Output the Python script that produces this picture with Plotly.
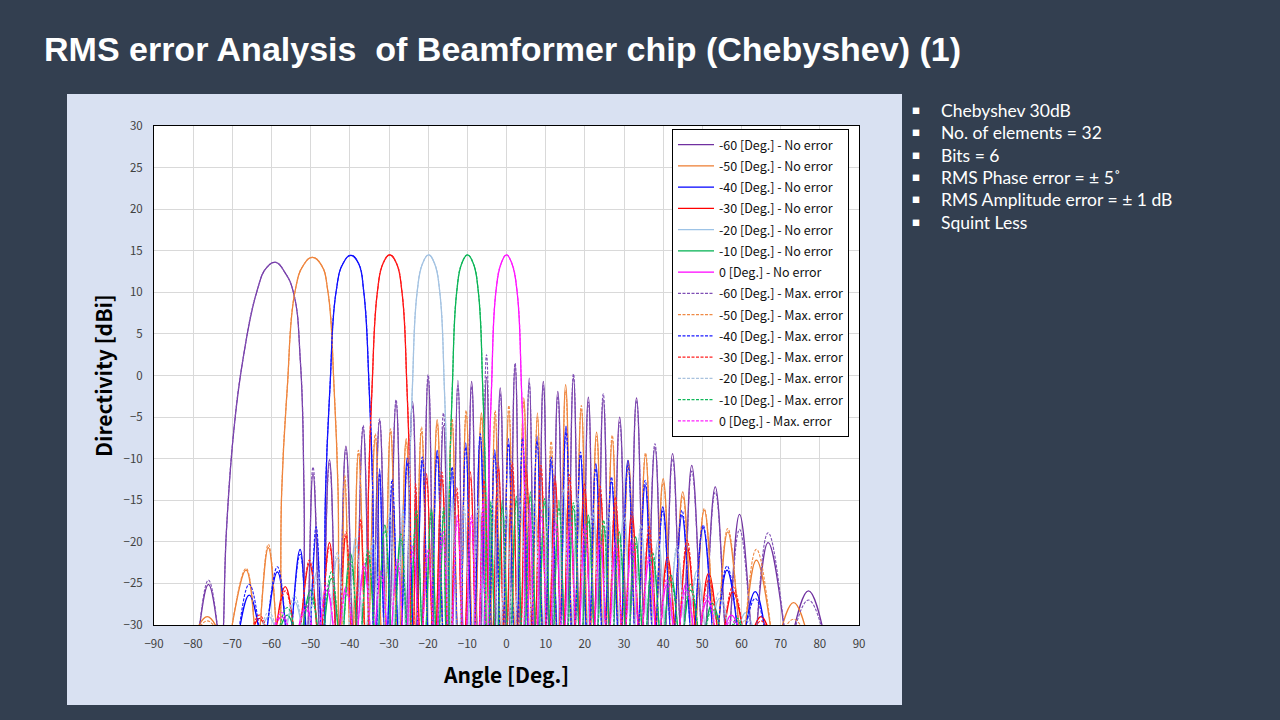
import plotly.graph_objects as go

# ---------------- data ----------------
x_tick_vals = list(range(-90, 91, 10))
y_tick_vals = list(range(-30, 31, 5))

beam_labels = ["-60", "-50", "-40", "-30", "-20", "-10", "0"]
beam_colors = ["#7030A0", "#ED7D31", "#0000FF", "#FF0000", "#9DC3E6", "#00B050", "#FF00FF"]
dash_colors = ["#7F4FB5", "#F08A45", "#1A1AFF", "#FF2020", "#A9C2DE", "#10B85A", "#FF22FF"]

std_main_y = [-14.0, -1.7, 10.1, 13.5, 14.5, 13.5, 10.1, -1.7, -14.0]

# -60 deg beam
m60_main_x = [-71.5, -69.6, -67.3, -63.8, -61.2, -58.9, -56.6, -54.4, -52.6, -51.7]
m60_main_y = [-18.6, -6.5, 1.9, 10.0, 13.0, 13.6, 12.4, 10.0, 1.5, -14.0]
m60_nulls = [-72.8, -51.2]
m60_side_x = [-76.1, -49.4, -45.2, -41.0, -36.6, -32.4, -28.2, -24.0, -20.0, -16.1, -12.4, -8.9,
              -5.1, -1.6, 2.2, 5.8, 9.4, 13.1, 17.1, 20.9, 24.7, 28.9, 33.2, 37.9, 42.4, 47.3,
              53.3, 59.5, 66.8, 77.1]
m60_noerr = [-25.1, -11.8, -10.1, -8.5, -6.4, -5.5, -3.3, -3.1, -0.3, -6.0, -0.6, -0.7,
             -0.2, -1.5, 1.1, -0.3, -0.7, -1.9, -0.3, -2.6, -2.9, -5.0, -2.7, -8.6, -9.4, -10.8,
             -13.4, -16.7, -20.1, -25.9]
m60_maxerr = [-24.6, -11.0, -10.6, -8.9, -6.0, -5.2, -2.9, -3.6, 0.1, -4.5, -1.2, -1.3,
              2.5, -2.2, 1.5, -0.9, -1.2, -2.5, 0.2, -3.2, -2.2, -5.6, -3.0, -8.2, -10.0, -11.5,
              -14.0, -18.5, -18.9, -27.0]

# -50 deg beam
m50_main_x = [-57.4, -56.0, -54.0, -51.8, -49.6, -47.3, -45.6, -44.0, -43.0]
m50_main_y = [-14.0, -1.7, 10.1, 13.3, 14.2, 13.3, 10.1, -1.7, -14.0]
m50_nulls = [-58.1, -42.5]
m50_side_x = [-76.4, -66.5, -60.8, -41.3, -37.8, -33.5, -29.6, -25.6, -21.7, -17.7, -13.9, -10.3,
              -6.4, -2.9, 0.6, 4.4, 7.9, 11.4, 15.1, 19.1, 23.0, 27.0, 31.1, 35.5, 40.0, 45.0,
              50.5, 56.5, 63.8, 73.3]
m50_noerr = [-29.0, -23.4, -20.7, -12.6, -9.4, -7.6, -6.8, -7.6, -6.8, -5.3, -5.7, -4.7,
             -4.5, -4.7, -4.3, -2.7, -4.5, -8.8, -1.1, -4.1, -6.8, -7.8, -10.2, -9.6, -12.4, -14.0,
             -16.2, -18.8, -22.2, -27.3]
m50_maxerr = [-29.5, -23.2, -20.3, -12.0, -9.0, -7.0, -6.4, -8.0, -6.2, -5.8, -5.2, -4.2,
              -5.0, -4.2, -3.6, -3.2, -5.0, -7.9, -1.8, -3.6, -7.3, -7.2, -10.8, -9.3, -12.9, -14.5,
              -16.0, -18.4, -20.9, -29.3]

# -40 deg beam
m40_main_x = [-46.2, -45.1, -43.5, -41.7, -39.7, -37.8, -36.45, -35.05, -34.15]
m40_main_y = [-14.0, -1.7, 10.1, 13.5, 14.45, 13.5, 10.1, -1.7, -14.0]
m40_nulls = [-46.85, -33.6]
m40_side_x = [-65.7, -58.5, -52.7, -48.6, -32.4, -29.2, -25.3, -21.5, -17.7, -13.9, -10.4, -6.7,
              -3.0, 0.5, 4.1, 7.8, 11.4, 15.2, 18.9, 22.8, 26.8, 31.0, 35.4, 39.9, 44.8, 50.2,
              56.3, 63.5]
m40_noerr = [-26.4, -23.6, -20.9, -19.0, -11.2, -13.2, -9.8, -10.4, -9.0, -11.5, -8.1, -7.4,
             -8.9, -7.6, -8.0, -7.3, -10.4, -6.1, -9.7, -10.6, -12.8, -10.2, -13.2, -15.8, -16.8, -18.3,
             -23.4, -26.0]
m40_maxerr = [-25.1, -23.0, -21.5, -18.2, -11.8, -12.5, -10.5, -9.8, -9.6, -11.0, -8.6, -7.0,
              -9.4, -8.2, -7.5, -7.9, -9.8, -6.8, -9.2, -11.2, -12.2, -10.8, -12.6, -16.3, -16.2, -18.0,
              -22.9, -26.8]

# -30 deg beam
m30_main_x = [-35.25, -34.35, -32.95, -31.5, -29.8, -28.1, -26.7, -25.4, -24.6]
m30_main_y = std_main_y
m30_nulls = [-35.8, -24.1]
m30_side_x = [-63.1, -56.5, -50.3, -45.2, -41.0, -37.2, -23.2, -20.4, -16.5, -12.7, -9.2, -5.7,
              -2.1, 1.5, 5.0, 8.8, 12.4, 16.1, 19.9, 23.9, 27.8, 32.0, 36.4, 41.1, 46.1, 51.6,
              57.8, 65.0]
m30_noerr = [-29.2, -25.4, -22.6, -20.1, -19.3, -17.8, -13.8, -11.8, -12.4, -14.2, -11.6, -13.4,
             -10.4, -11.2, -10.7, -11.4, -12.0, -12.6, -13.0, -14.0, -15.4, -16.4, -19.0, -21.8, -20.6, -23.8,
             -26.0, -29.0]
m30_maxerr = [-28.8, -25.9, -22.2, -20.6, -18.8, -17.3, -13.0, -12.4, -11.6, -13.5, -12.3, -12.6,
              -11.2, -10.5, -11.6, -10.8, -12.8, -11.9, -13.8, -13.3, -14.6, -17.2, -18.2, -22.6, -19.8, -24.6,
              -25.4, -29.5]

# -20 deg beam
m20_main_x = [-24.85, -24.05, -22.8, -21.4, -19.9, -18.4, -17.05, -15.85, -15.1]
m20_main_y = std_main_y
m20_nulls = [-25.4, -14.6]
m20_side_x = [-60.7, -54.1, -48.3, -43.2, -38.5, -34.0, -29.8, -26.4, -13.8, -10.8, -7.15, -3.55,
              0.0, 3.6, 7.2, 10.8, 14.5, 18.2, 22.1, 26.0, 30.0, 34.3, 38.7, 43.5, 48.6, 54.4, 61.1]
m20_noerr = [-29.0, -27.2, -23.5, -22.0, -19.5, -20.1, -17.0, -15.5, -15.2, -16.5, -14.8, -16.0,
             -15.5, -14.6, -15.8, -14.2, -13.4, -15.0, -15.8, -17.0, -16.2, -18.5, -19.8, -21.0, -23.5, -26.8, -28.5]
m20_maxerr = [-28.4, -26.5, -24.4, -21.3, -20.4, -19.5, -16.4, -16.2, -14.6, -15.8, -15.6, -15.2,
              -16.3, -15.4, -15.0, -15.1, -13.8, -14.4, -16.6, -16.3, -17.1, -17.9, -20.6, -20.5, -24.2, -26.0, -29.4]

# -10 deg beam
m10_main_x = [-14.6, -13.85, -12.7, -11.4, -9.95, -8.5, -7.2, -6.05, -5.3]
m10_main_y = std_main_y
m10_nulls = [-15.1, -4.85]
m10_side_x = [-63.0, -55.96, -50.0, -44.71, -39.86, -35.35, -31.06, -26.97, -23.0, -19.18, -16.06,
              -4.05, -1.07, 2.52, 6.11, 9.72, 13.38, 17.09, 20.88, 24.77, 28.78, 32.95, 37.33, 41.98,
              47.0, 52.55, 58.9]
m10_noerr = [-31.0, -28.8, -25.8, -24.4, -21.4, -21.7, -18.0, -19.0, -17.0, -15.8, -16.5,
             -16.0, -15.0, -14.5, -14.0, -15.4, -15.0, -16.0, -16.8, -18.1, -18.8, -19.4, -22.0, -24.0,
             -25.8, -27.4, -29.5]
m10_maxerr = [-30.5, -27.9, -26.6, -23.6, -22.3, -20.9, -18.6, -19.8, -16.2, -16.4, -15.9,
              -15.2, -15.8, -15.1, -14.6, -14.8, -15.9, -15.3, -17.5, -17.4, -19.6, -20.2, -21.3, -24.8,
              -25.1, -28.1, -29.2]

# 0 deg beam
p0_main_x = [-4.59, -3.84, -2.7, -1.35, 0.0, 1.35, 2.7, 3.84, 4.59]
p0_main_y = std_main_y
p0_nulls = [-5.05, 5.05]
p0_side_x = [-64.8, -57.4, -51.26, -45.85, -40.9, -36.34, -32.0, -27.87, -23.89, -20.03, -16.26,
             -12.56, -8.92, -5.91, 5.91, 8.92, 12.56, 16.26, 20.03, 23.89, 27.87, 32.0, 36.34, 40.9,
             45.85, 51.26, 57.4, 64.8]
p0_noerr = [-31.0, -29.0, -27.6, -25.8, -25.4, -23.0, -23.5, -22.8, -20.5, -21.6, -19.5,
            -16.8, -17.5, -14.4, -16.0, -16.2, -18.5, -17.0, -18.4, -19.4, -20.5, -19.6, -22.4, -25.2,
            -25.0, -27.0, -28.8, -31.0]
p0_maxerr = [-31.0, -28.5, -28.1, -25.2, -26.1, -22.6, -24.1, -22.1, -21.2, -20.9, -18.7,
             -17.5, -16.8, -15.1, -15.4, -17.0, -17.6, -17.8, -17.9, -20.1, -19.8, -20.4, -21.7, -24.5,
             -25.8, -26.4, -29.4, -31.0]

beams = [
    (m60_main_x, m60_main_y, m60_nulls, m60_side_x, m60_noerr, m60_maxerr),
    (m50_main_x, m50_main_y, m50_nulls, m50_side_x, m50_noerr, m50_maxerr),
    (m40_main_x, m40_main_y, m40_nulls, m40_side_x, m40_noerr, m40_maxerr),
    (m30_main_x, m30_main_y, m30_nulls, m30_side_x, m30_noerr, m30_maxerr),
    (m20_main_x, m20_main_y, m20_nulls, m20_side_x, m20_noerr, m20_maxerr),
    (m10_main_x, m10_main_y, m10_nulls, m10_side_x, m10_noerr, m10_maxerr),
    (p0_main_x, p0_main_y, p0_nulls, p0_side_x, p0_noerr, p0_maxerr),
]

bullet_lines = ["Chebyshev 30dB", "No. of elements = 32", "Bits = 6",
                "RMS Phase error = \u00b1 5\u02da", "RMS Amplitude error = \u00b1 1 dB", "Squint Less"]

# ---------------- drawing helpers ----------------
FLOOR = -33.0   # nulls sit just below the visible axis range and are clipped
EPS = 0.05


def pattern(main_x, main_y, nulls, side_x, side_y):
    lobes = []
    for sx, sy in zip(side_x, side_y):
        if sx < nulls[0]:
            lobes.append(("s", [sx], [sy]))
    lobes.append(("m", list(main_x), list(main_y)))
    for sx, sy in zip(side_x, side_y):
        if sx > nulls[1]:
            lobes.append(("s", [sx], [sy]))
    bounds = []
    for i in range(len(lobes) - 1):
        a, b = lobes[i], lobes[i + 1]
        if b[0] == "m":
            bounds.append(nulls[0])
        elif a[0] == "m":
            bounds.append(nulls[1])
        else:
            bounds.append(0.5 * (a[1][0] + b[1][0]))
    first = lobes[0][1][0]
    last = lobes[-1][1][-1]
    left_edge = first - (bounds[0] - first) if lobes[0][0] == "s" else nulls[0]
    right_edge = last + (last - bounds[-1]) if lobes[-1][0] == "s" else nulls[1]
    xs, ys = [left_edge - EPS, left_edge + EPS], [FLOOR, FLOOR]
    for i, lobe in enumerate(lobes):
        xs.extend(lobe[1])
        ys.extend(lobe[2])
        if i < len(bounds):
            xs.extend([bounds[i] - EPS, bounds[i] + EPS])
            ys.extend([FLOOR, FLOOR])
    xs.extend([right_edge - EPS, right_edge + EPS])
    ys.extend([FLOOR, FLOOR])
    return xs, ys


FONT = "Noto Sans CJK KR, Noto Sans, sans-serif"
BULLET_FONT = "Lato, Noto Sans, sans-serif"
fig = go.Figure()

for i, (mx, my, nl, sx, sn, se) in enumerate(beams):
    xs, ys = pattern(mx, my, nl, sx, sn)
    fig.add_trace(go.Scatter(
        x=xs, y=ys, mode="lines",
        name=f"{beam_labels[i]} [Deg.] - No error",
        legendgroup=f"n{i}",
        line=dict(color=beam_colors[i], width=1.25, shape="spline", smoothing=1.3, simplify=False),
    ))
for i, (mx, my, nl, sx, sn, se) in enumerate(beams):
    xs, ys = pattern(mx, my, nl, sx, se)
    fig.add_trace(go.Scatter(
        x=xs, y=ys, mode="lines",
        name=f"{beam_labels[i]} [Deg.] - Max. error",
        legendgroup=f"e{i}",
        line=dict(color=dash_colors[i], width=1.1, dash="3px,1.5px", shape="spline",
                  smoothing=1.3, simplify=False),
    ))

# ---------------- layout ----------------
L, R, T, B = 154, 859, 126, 625
PW, PH = R - L, B - T


def px(xp):
    return (xp - L) / PW


def py(yp):
    return (B - yp) / PH


shapes = [
    dict(type="rect", xref="paper", yref="paper", x0=px(67), x1=px(902), y0=py(705), y1=py(94),
         fillcolor="#D9E1F2", line=dict(width=0), layer="below"),
    dict(type="rect", xref="paper", yref="paper", x0=0, x1=1, y0=0, y1=1,
         fillcolor="white", line=dict(width=0), layer="below"),
]

annotations = [
    dict(text="<b>RMS error Analysis\u00a0 of Beamformer chip (Chebyshev) (1)</b>",
         xref="paper", yref="paper", x=px(42), y=py(49), xanchor="left", yanchor="middle",
         showarrow=False, font=dict(family="Liberation Sans, Arial, sans-serif", size=34, color="white")),
    dict(text="<b>Angle [Deg.]</b>", xref="paper", yref="paper", x=px(506), y=py(674),
         xanchor="center", yanchor="middle", showarrow=False,
         font=dict(family=FONT, size=21, color="black")),
    dict(text="<b>Directivity [dBi]</b>", xref="paper", yref="paper", x=px(103), y=py(376),
         xanchor="center", yanchor="middle", showarrow=False, textangle=-90,
         font=dict(family=FONT, size=21, color="black")),
]
for k, txt in enumerate(bullet_lines):
    yc = 110.5 + k * 22.3
    annotations.append(dict(text="\u25a0", xref="paper", yref="paper", x=px(916), y=py(yc),
                            xanchor="center", yanchor="middle", showarrow=False,
                            font=dict(family=FONT, size=8, color="white")))
    annotations.append(dict(text=txt, xref="paper", yref="paper", x=px(940), y=py(yc),
                            xanchor="left", yanchor="middle", showarrow=False, borderpad=0,
                            font=dict(family=BULLET_FONT, size=17.5, color="white")))

fig.update_layout(
    width=1280, height=720,
    margin=dict(l=L, r=1280 - R, t=T, b=720 - B),
    paper_bgcolor="#333F50", plot_bgcolor="white",
    shapes=shapes, annotations=annotations,
    showlegend=True,
    legend=dict(x=px(672), y=py(129), xanchor="left", yanchor="top",
                bgcolor="white", bordercolor="black", borderwidth=1,
                font=dict(family=FONT, size=12.5, color="#111111"),
                tracegroupgap=2.0, itemwidth=36),
    xaxis=dict(range=[-90, 90], tickvals=x_tick_vals, showgrid=True, gridcolor="#D9D9D9",
               gridwidth=1, zeroline=False, showline=True, mirror=True, linecolor="black",
               linewidth=1, ticks="", ticklabelstandoff=8,
               tickfont=dict(family=FONT, size=11.5, color="#404040")),
    yaxis=dict(range=[-30, 30], tickvals=y_tick_vals, showgrid=True, gridcolor="#D9D9D9",
               gridwidth=1, zeroline=False, showline=True, mirror=True, linecolor="black",
               linewidth=1, ticks="", ticklabelstandoff=8,
               tickfont=dict(family=FONT, size=11.5, color="#404040")),
)

fig.write_html("out.html")
